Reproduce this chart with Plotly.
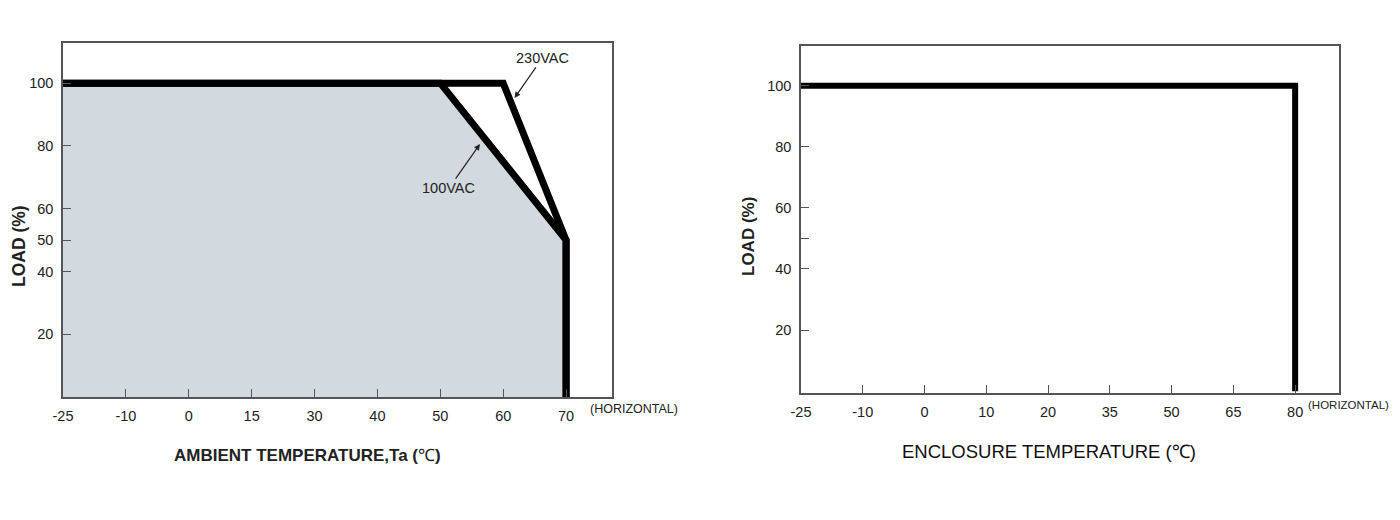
import plotly.graph_objects as go

# ---------------- data ----------------
ambient_ticks = ["-25", "-10", "0", "15", "30", "40", "50", "60", "70"]
enclosure_ticks = ["-25", "-10", "0", "10", "20", "35", "50", "65", "80"]

load_ticks = [20, 40, 50, 60, 80, 100]
load_labels = ["20", "40", "50", "60", "80", "100"]
right_load_labels = ["20", "40", "", "60", "80", "100"]
mirror_ticks = [20, 40, 60, 80, 100]

curve_100vac_x = ["-25", "50", "70", "70"]
curve_100vac_y = [100, 100, 50, 0]
curve_230vac_x = ["-25", "60", "70", "70"]
curve_230vac_y = [100, 100, 50, 0]
area_x = ["-25", "-25", "50", "70", "70"]
area_y = [0, 100, 100, 50, 0]

enclosure_x = ["-25", "80", "80"]
enclosure_y = [100, 100, 0]

# ---------------- style ----------------
FONT = "Liberation Sans Narrow, Arial Narrow, Liberation Sans, Arial, sans-serif"
AXIS_COLOR = "#555555"
TICK_COLOR = "#46586a"
W, H = 1400, 520
OFF = 8  # page body margin offset

fig = go.Figure()

fig.add_trace(go.Scatter(x=area_x, y=area_y, mode="lines", fill="toself",
                         fillcolor="#d2dae0", line=dict(width=0),
                         hoverinfo="skip", xaxis="x", yaxis="y", showlegend=False))
fig.add_trace(go.Scatter(x=curve_230vac_x, y=curve_230vac_y, mode="lines",
                         line=dict(color="black", width=7), name="230VAC",
                         xaxis="x", yaxis="y", showlegend=False))
fig.add_trace(go.Scatter(x=curve_100vac_x, y=curve_100vac_y, mode="lines",
                         line=dict(color="black", width=7), name="100VAC",
                         xaxis="x", yaxis="y", showlegend=False))
fig.add_trace(go.Scatter(x=enclosure_x, y=enclosure_y, mode="lines",
                         line=dict(color="black", width=6), name="Enclosure",
                         xaxis="x2", yaxis="y2", showlegend=False))


def px(xp):
    return (xp - OFF) / W


def py(yp):
    return 1 - (yp - OFF) / H


def px2dom_x(a, b):
    return [px(a), px(b)]


def px2dom_y(top, bottom):
    return [py(bottom), py(top)]


TICKFONT = dict(family=FONT, size=14.5, color="#222")

common_x = dict(type="category", showline=True, linecolor=AXIS_COLOR, linewidth=1.5,
                mirror=True, ticks="inside", ticklen=8, tickcolor=TICK_COLOR,
                tickwidth=1, showgrid=False, zeroline=False, automargin=False,
                tickfont=TICKFONT, ticklabelstandoff=5)
common_y = dict(showline=True, linecolor=AXIS_COLOR, linewidth=1.5, mirror=True,
                ticks="inside", ticklen=8, tickcolor=TICK_COLOR, tickwidth=1,
                showgrid=False, zeroline=False, tickmode="array", automargin=False,
                tickfont=TICKFONT, ticklabelstandoff=5)

fig.update_layout(
    width=W, height=H, margin=dict(l=0, r=0, t=0, b=0),
    paper_bgcolor="white", plot_bgcolor="white",
    xaxis=dict(common_x, domain=px2dom_x(63, 612), anchor="y",
               categoryarray=ambient_ticks, categoryorder="array",
               range=[0, 8.73]),
    yaxis=dict(common_y, domain=px2dom_y(43, 397), anchor="x",
               range=[0, 112.8], tickvals=load_ticks, ticktext=load_labels),
    yaxis3=dict(overlaying="y", side="right", anchor="x", range=[0, 112.8],
                showline=False, showgrid=False, zeroline=False, ticks="inside",
                ticklen=8, tickcolor=TICK_COLOR, tickvals=mirror_ticks,
                showticklabels=False, automargin=False),
    xaxis2=dict(common_x, domain=px2dom_x(801, 1339), anchor="y2",
                categoryarray=enclosure_ticks, categoryorder="array",
                range=[0, 8.71]),
    yaxis2=dict(common_y, domain=px2dom_y(46, 393), anchor="x2",
                range=[-0.6, 113], tickvals=load_ticks, ticktext=right_load_labels),
    yaxis4=dict(overlaying="y2", side="right", anchor="x2", range=[-0.6, 113],
                showline=False, showgrid=False, zeroline=False, ticks="inside",
                ticklen=8, tickcolor=TICK_COLOR, tickvals=mirror_ticks,
                showticklabels=False, automargin=False),
)

ann = []
# axis titles
ann.append(dict(text="<b>LOAD (%)</b>", x=px(19), y=py(246), xref="paper", yref="paper",
                xanchor="center", yanchor="middle", textangle=-90, showarrow=False,
                font=dict(family=FONT, size=17.5, color="#222")))
ann.append(dict(text="<b>AMBIENT TEMPERATURE,Ta (</b>℃<b>)</b>", x=px(307), y=py(455),
                xref="paper", yref="paper", xanchor="center", yanchor="middle",
                showarrow=False, font=dict(family=FONT, size=17, color="#222")))
ann.append(dict(text="(HORIZONTAL)", x=px(588), y=py(409), xref="paper", yref="paper",
                xanchor="left", yanchor="middle", showarrow=False,
                font=dict(family=FONT, size=12.5, color="#222")))
ann.append(dict(text="<b>LOAD (%)</b>", x=px(748), y=py(237), xref="paper", yref="paper",
                xanchor="center", yanchor="middle", textangle=-90, showarrow=False,
                font=dict(family=FONT, size=17, color="#222")))
ann.append(dict(text="ENCLOSURE TEMPERATURE (℃)", x=px(1049), y=py(451),
                xref="paper", yref="paper", xanchor="center", yanchor="middle",
                showarrow=False, font=dict(family=FONT, size=18.5, color="#111")))
ann.append(dict(text="(HORIZONTAL)", x=px(1306), y=py(405), xref="paper", yref="paper",
                xanchor="left", yanchor="middle", showarrow=False,
                font=dict(family=FONT, size=11.5, color="#222")))
# curve labels with arrows
ann.append(dict(text="230VAC", x=7.18, y=95.3, xref="x", yref="y", ax=28, ay=-40,
                showarrow=True, arrowhead=2, arrowsize=1, arrowwidth=1.2,
                arrowcolor="#222", font=dict(family=FONT, size=14.5, color="#222")))
ann.append(dict(text="100VAC", x=6.63, y=80.6, xref="x", yref="y", ax=-31, ay=44,
                showarrow=True, arrowhead=2, arrowsize=1, arrowwidth=1.2,
                arrowcolor="#222", font=dict(family=FONT, size=14.5, color="#222")))
fig.update_layout(annotations=ann)

fig.write_html("out.html")
